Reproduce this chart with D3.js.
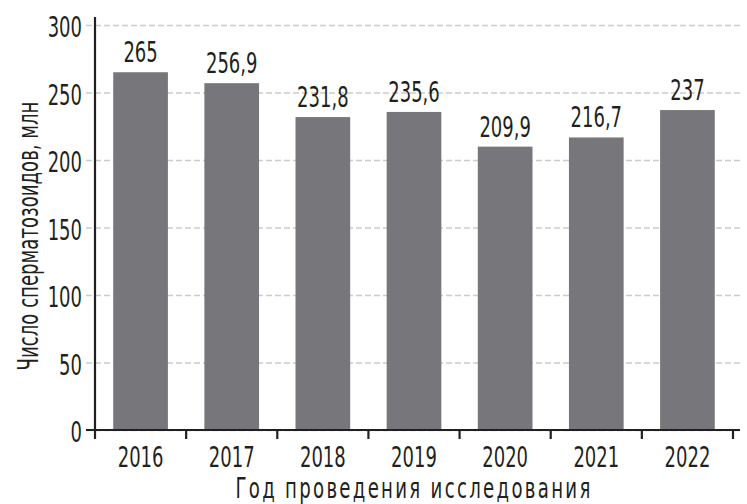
<!DOCTYPE html>
<html>
<head>
<meta charset="utf-8">
<script src="https://cdn.jsdelivr.net/npm/d3@7"></script>
<style>
  body { margin: 0; background: #fff; }
  text { font-family: "DejaVu Sans Condensed", "DejaVu Sans", sans-serif; fill: #231f20; }
</style>
</head>
<body>
<svg id="canvas" width="747" height="504"></svg>
<script>
let years = ['2016', '2017', '2018', '2019', '2020', '2021', '2022']
let counts = [265, 256.9, 231.8, 235.6, 209.9, 216.7, 237]
let yTicks = [0, 50, 100, 150, 200, 250, 300]

let svg = d3.select('#canvas')

let plotLeft = 95, plotRight = 733, plotTop = 25, plotBottom = 430

// narrow look: squeeze the text horizontally
let numScale = 0.69
let titleScale = 0.72

let xScale = d3.scaleBand()
    .domain(years)
    .range([plotLeft, plotRight])
    .paddingInner(0.4)
    .paddingOuter(0.2)

let yScale = d3.scaleLinear()
    .domain([0, 300])
    .range([plotBottom, plotTop])

// dashed grid
svg.append('g')
    .attr('transform', 'translate(' + plotLeft + ',0)')
    .call(d3.axisLeft(yScale).tickValues(yTicks).tickSize(-(740 - plotLeft)).tickFormat(''))
    .call(g => g.select('.domain').remove())
    .selectAll('line')
    .attr('x1', -9)
    .attr('stroke', '#cccccc')
    .attr('stroke-width', 1.6)
    .attr('stroke-dasharray', '6,3')

// y tick labels
svg.append('g')
    .selectAll('text')
    .data(yTicks)
    .enter()
    .append('text')
    .attr('transform', d => 'translate(82,' + (yScale(d) + 12) + ') scale(' + numScale + ',1)')
    .attr('text-anchor', 'end')
    .style('font-size', '29px')
    .text(d => d)

// bars
svg.append('g')
    .selectAll('rect')
    .data(counts)
    .enter()
    .append('rect')
    .attr('x', (d, i) => xScale(years[i]))
    .attr('y', d => yScale(d))
    .attr('width', xScale.bandwidth())
    .attr('height', d => plotBottom - yScale(d))
    .attr('fill', '#77777b')

// value labels
svg.append('g')
    .selectAll('text')
    .data(counts)
    .enter()
    .append('text')
    .attr('transform', (d, i) => 'translate(' + (xScale(years[i]) + xScale.bandwidth() / 2) + ',' + (yScale(d) - 10) + ') scale(' + numScale + ',1)')
    .attr('text-anchor', 'middle')
    .style('font-size', '29px')
    .text(d => String(d).replace('.', ','))

// axes lines
svg.append('line')
    .attr('x1', plotLeft).attr('x2', plotLeft)
    .attr('y1', 17).attr('y2', 439)
    .attr('stroke', '#231f20').attr('stroke-width', 2.2)

svg.append('line')
    .attr('x1', 86).attr('x2', 740)
    .attr('y1', plotBottom).attr('y2', plotBottom)
    .attr('stroke', '#231f20').attr('stroke-width', 2.2)

let gap = xScale.step() - xScale.bandwidth()
let tickXs = years.map(y => xScale(y) + xScale.bandwidth() + gap / 2)

svg.append('g')
    .selectAll('line')
    .data(tickXs)
    .enter()
    .append('line')
    .attr('x1', d => d).attr('x2', d => d)
    .attr('y1', plotBottom).attr('y2', 439)
    .attr('stroke', '#231f20').attr('stroke-width', 2.2)

// x tick labels
svg.append('g')
    .selectAll('text')
    .data(years)
    .enter()
    .append('text')
    .attr('transform', d => 'translate(' + (xScale(d) + xScale.bandwidth() / 2) + ',467) scale(' + numScale + ',1)')
    .attr('text-anchor', 'middle')
    .style('font-size', '29px')
    .text(d => d)

// titles
svg.append('text')
    .attr('transform', 'translate(' + ((plotLeft + plotRight) / 2) + ',498) scale(' + titleScale + ',1)')
    .attr('text-anchor', 'middle')
    .style('font-size', '28px')
    .style('letter-spacing', '3.2px')
    .text('Год проведения исследования')

svg.append('text')
    .attr('transform', 'translate(38,236) rotate(-90) scale(' + titleScale + ',1)')
    .attr('text-anchor', 'middle')
    .style('font-size', '28px')
    .text('Число сперматозоидов, млн')
</script>
</body>
</html>
